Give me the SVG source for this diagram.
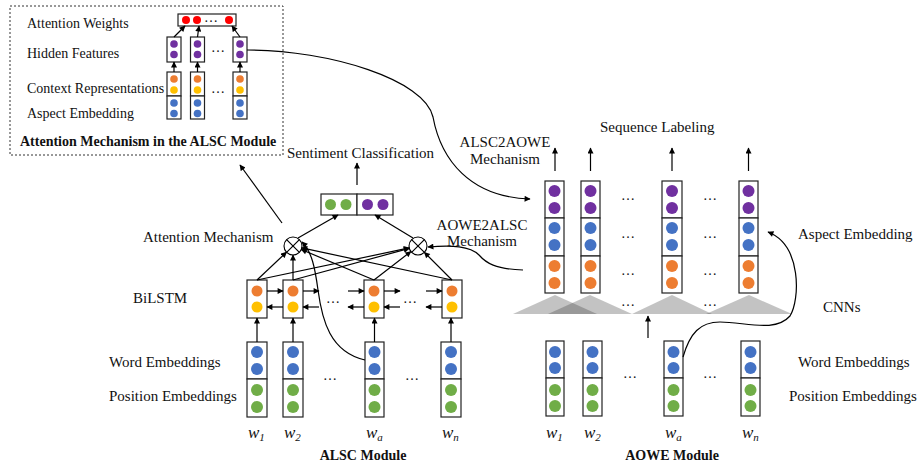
<svg xmlns="http://www.w3.org/2000/svg" width="920" height="468" viewBox="0 0 920 468">
<defs>
<marker id="ah" viewBox="0 0 10 10" refX="9" refY="5" markerWidth="7" markerHeight="6" markerUnits="userSpaceOnUse" orient="auto">
<path d="M0,0 L10,5 L0,10 z" fill="#000"/>
</marker>
</defs>
<style>
text{font-family:"Liberation Serif","Times New Roman",serif;fill:#111}
.t{font-size:15px}
.ti{font-size:14px}
.b{font-size:14px;font-weight:bold}
.w{font-size:17px;font-style:italic}
.s{font-size:11px}
.su{font-size:11px;font-style:italic}
.el{font-size:14px}
.box{fill:#fff;stroke:#222;stroke-width:1.2}
.ln{fill:none;stroke:#000;stroke-width:1.2}
.ar{fill:none;stroke:#000;stroke-width:1.2;marker-end:url(#ah)}
.o{fill:#ED7D31}.y{fill:#FFC000}.bl{fill:#4472C4}.g{fill:#70AD47}.p{fill:#7030A0}.r{fill:#FF0000}
.tri{fill:#373737;fill-opacity:0.3}
</style>

<g id="inset">
<rect x="10" y="6" width="273" height="149" fill="none" stroke="#333" stroke-width="1" stroke-dasharray="2,2"/>
<text class="ti" x="27" y="28">Attention Weights</text>
<text class="ti" x="27" y="58">Hidden Features</text>
<text class="ti" x="27" y="93">Context Representations</text>
<text class="ti" x="27" y="118">Aspect Embedding</text>
<text class="b" x="20" y="146">Attention Mechanism in the ALSC Module</text>
<rect class="box" x="178" y="14" width="58" height="12"/>
<circle class="r" cx="186" cy="20" r="4"/><circle class="r" cx="197" cy="20" r="4"/><circle class="r" cx="229" cy="20" r="4"/>
<text class="ti" x="211" y="22" text-anchor="middle">…</text>
<rect class="box" x="167" y="37" width="14" height="25"/>
<rect class="box" x="190.5" y="37" width="14" height="25"/>
<rect class="box" x="233" y="37" width="14" height="25"/>
<circle class="p" cx="174" cy="44" r="3.8"/><circle class="p" cx="174" cy="54.5" r="3.8"/>
<circle class="p" cx="197.5" cy="44" r="3.8"/><circle class="p" cx="197.5" cy="54.5" r="3.8"/>
<circle class="p" cx="240" cy="44" r="3.8"/><circle class="p" cx="240" cy="54.5" r="3.8"/>
<text class="ti" x="218" y="52" text-anchor="middle">…</text>
<rect class="box" x="167" y="72" width="14" height="24"/><rect class="box" x="167" y="96" width="14" height="23"/>
<rect class="box" x="190.5" y="72" width="14" height="24"/><rect class="box" x="190.5" y="96" width="14" height="23"/>
<rect class="box" x="233" y="72" width="14" height="24"/><rect class="box" x="233" y="96" width="14" height="23"/>
<circle class="o" cx="174" cy="79" r="3.8"/><circle class="y" cx="174" cy="90" r="3.8"/><circle class="bl" cx="174" cy="103" r="3.8"/><circle class="bl" cx="174" cy="113.5" r="3.8"/>
<circle class="o" cx="197.5" cy="79" r="3.8"/><circle class="y" cx="197.5" cy="90" r="3.8"/><circle class="bl" cx="197.5" cy="103" r="3.8"/><circle class="bl" cx="197.5" cy="113.5" r="3.8"/>
<circle class="o" cx="240" cy="79" r="3.8"/><circle class="y" cx="240" cy="90" r="3.8"/><circle class="bl" cx="240" cy="103" r="3.8"/><circle class="bl" cx="240" cy="113.5" r="3.8"/>
<text class="ti" x="218" y="93" text-anchor="middle">…</text>
</g>

<g id="alsc-labels">
<text class="t" x="287" y="158">Sentiment Classification</text>
<text class="t" x="143" y="242">Attention Mechanism</text>
<text class="t" x="133" y="303">BiLSTM</text>
<text class="t" x="109" y="367">Word Embeddings</text>
<text class="t" x="109" y="401">Position Embeddings</text>
<text class="t" x="482" y="230" text-anchor="middle">AOWE2ALSC</text>
<text class="t" x="482" y="246" text-anchor="middle">Mechanism</text>
<text class="t" x="505" y="147" text-anchor="middle">ALSC2AOWE</text>
<text class="t" x="505" y="164" text-anchor="middle">Mechanism</text>
<text class="b" x="363" y="460" text-anchor="middle">ALSC Module</text>
</g>

<g id="sentiment-box">
<rect class="box" x="321" y="194" width="36" height="21"/>
<rect class="box" x="357" y="194" width="36" height="21"/>
<circle class="g" cx="330.5" cy="204.5" r="5.5"/><circle class="g" cx="346" cy="204.5" r="5.5"/>
<circle class="p" cx="367.5" cy="204.5" r="5.5"/><circle class="p" cx="383" cy="204.5" r="5.5"/>
</g>

<g id="attn-ops">
<circle cx="293" cy="246" r="9" fill="#fff" stroke="#000" stroke-width="1.1"/>
<path class="ln" d="M286.6,239.6 L299.4,252.4 M299.4,239.6 L286.6,252.4" stroke-width="1"/>
<circle cx="418" cy="246" r="9" fill="#fff" stroke="#000" stroke-width="1.1"/>
<path class="ln" d="M411.6,239.6 L424.4,252.4 M424.4,239.6 L411.6,252.4" stroke-width="1"/>
</g>

<g id="bilstm">
<rect class="box" x="247" y="280" width="20" height="38"/>
<rect class="box" x="283" y="280" width="20" height="38"/>
<rect class="box" x="364" y="280" width="20" height="38"/>
<rect class="box" x="442" y="280" width="20" height="38"/>
<circle class="o" cx="257" cy="291" r="5.5"/><circle class="y" cx="257" cy="307" r="5.5"/>
<circle class="o" cx="293" cy="291" r="5.5"/><circle class="y" cx="293" cy="307" r="5.5"/>
<circle class="o" cx="374" cy="291" r="5.5"/><circle class="y" cx="374" cy="307" r="5.5"/>
<circle class="o" cx="452" cy="291" r="5.5"/><circle class="y" cx="452" cy="307" r="5.5"/>
<text class="el" x="333" y="303" text-anchor="middle">…</text>
<text class="el" x="410" y="303" text-anchor="middle">…</text>
</g>

<g id="alsc-emb">
<rect class="box" x="247" y="342" width="20" height="37"/><rect class="box" x="247" y="379" width="20" height="38"/>
<rect class="box" x="283" y="342" width="20" height="37"/><rect class="box" x="283" y="379" width="20" height="38"/>
<rect class="box" x="365" y="342" width="19" height="37"/><rect class="box" x="365" y="379" width="19" height="38"/>
<rect class="box" x="441" y="342" width="20" height="37"/><rect class="box" x="441" y="379" width="20" height="38"/>
<circle class="bl" cx="257" cy="352" r="6"/><circle class="bl" cx="257" cy="369" r="6"/><circle class="g" cx="257" cy="390" r="6"/><circle class="g" cx="257" cy="407" r="6"/>
<circle class="bl" cx="293" cy="352" r="6"/><circle class="bl" cx="293" cy="369" r="6"/><circle class="g" cx="293" cy="390" r="6"/><circle class="g" cx="293" cy="407" r="6"/>
<circle class="bl" cx="374.5" cy="352" r="6"/><circle class="bl" cx="374.5" cy="369" r="6"/><circle class="g" cx="374.5" cy="390" r="6"/><circle class="g" cx="374.5" cy="407" r="6"/>
<circle class="bl" cx="451" cy="352" r="6"/><circle class="bl" cx="451" cy="369" r="6"/><circle class="g" cx="451" cy="390" r="6"/><circle class="g" cx="451" cy="407" r="6"/>
<text class="el" x="330" y="380" text-anchor="middle">…</text>
<text class="el" x="412" y="380" text-anchor="middle">…</text>
<text class="w" x="248" y="438">w<tspan class="s" dy="3">1</tspan></text>
<text class="w" x="284" y="438">w<tspan class="s" dy="3">2</tspan></text>
<text class="w" x="366" y="438">w<tspan class="su" dy="3">a</tspan></text>
<text class="w" x="442" y="438">w<tspan class="su" dy="3">n</tspan></text>
</g>

<g id="aowe-labels">
<text class="t" x="600" y="132">Sequence Labeling</text>
<text class="t" x="798" y="239">Aspect Embedding</text>
<text class="t" x="823" y="312">CNNs</text>
<text class="t" x="798" y="367">Word Embeddings</text>
<text class="t" x="789" y="401">Position Embeddings</text>
<text class="b" x="672" y="460" text-anchor="middle">AOWE Module</text>
</g>

<g id="aowe-cnn">
<polygon class="tri" points="513,314 555,295 597,314"/>
<polygon class="tri" points="548,314 590,295 632,314"/>
<polygon class="tri" points="632,314 672,295 712,314"/>
<polygon class="tri" points="706,314 749,295 792,314"/>
<text class="el" x="628" y="306" text-anchor="middle">…</text>
<text class="el" x="710" y="306" text-anchor="middle">…</text>
</g>

<g id="aowe-stack">
<rect class="box" x="545" y="181" width="19" height="37"/><rect class="box" x="545" y="218" width="19" height="38"/><rect class="box" x="545" y="256" width="19" height="37"/>
<rect class="box" x="581" y="181" width="19" height="37"/><rect class="box" x="581" y="218" width="19" height="38"/><rect class="box" x="581" y="256" width="19" height="37"/>
<rect class="box" x="662" y="181" width="20" height="37"/><rect class="box" x="662" y="218" width="20" height="38"/><rect class="box" x="662" y="256" width="20" height="37"/>
<rect class="box" x="739" y="181" width="19" height="37"/><rect class="box" x="739" y="218" width="19" height="38"/><rect class="box" x="739" y="256" width="19" height="37"/>
<circle class="p" cx="554.5" cy="191" r="6"/><circle class="p" cx="554.5" cy="208" r="6"/><circle class="bl" cx="554.5" cy="228" r="6"/><circle class="bl" cx="554.5" cy="245" r="6"/><circle class="o" cx="554.5" cy="266" r="6"/><circle class="o" cx="554.5" cy="283" r="6"/>
<circle class="p" cx="590.5" cy="191" r="6"/><circle class="p" cx="590.5" cy="208" r="6"/><circle class="bl" cx="590.5" cy="228" r="6"/><circle class="bl" cx="590.5" cy="245" r="6"/><circle class="o" cx="590.5" cy="266" r="6"/><circle class="o" cx="590.5" cy="283" r="6"/>
<circle class="p" cx="672" cy="191" r="6"/><circle class="p" cx="672" cy="208" r="6"/><circle class="bl" cx="672" cy="228" r="6"/><circle class="bl" cx="672" cy="245" r="6"/><circle class="o" cx="672" cy="266" r="6"/><circle class="o" cx="672" cy="283" r="6"/>
<circle class="p" cx="748.5" cy="191" r="6"/><circle class="p" cx="748.5" cy="208" r="6"/><circle class="bl" cx="748.5" cy="228" r="6"/><circle class="bl" cx="748.5" cy="245" r="6"/><circle class="o" cx="748.5" cy="266" r="6"/><circle class="o" cx="748.5" cy="283" r="6"/>
<text class="el" x="628" y="200" text-anchor="middle">…</text><text class="el" x="710" y="200" text-anchor="middle">…</text>
<text class="el" x="628" y="238" text-anchor="middle">…</text><text class="el" x="710" y="238" text-anchor="middle">…</text>
<text class="el" x="628" y="275" text-anchor="middle">…</text><text class="el" x="710" y="275" text-anchor="middle">…</text>
</g>

<g id="aowe-emb">
<rect class="box" x="546" y="341" width="18" height="37"/><rect class="box" x="546" y="378" width="18" height="38"/>
<rect class="box" x="583" y="341" width="19" height="37"/><rect class="box" x="583" y="378" width="19" height="38"/>
<rect class="box" x="664" y="341" width="19" height="37"/><rect class="box" x="664" y="378" width="19" height="38"/>
<rect class="box" x="741" y="341" width="19" height="37"/><rect class="box" x="741" y="378" width="19" height="38"/>
<circle class="bl" cx="555" cy="352" r="6"/><circle class="bl" cx="555" cy="368" r="6"/><circle class="g" cx="555" cy="390" r="6"/><circle class="g" cx="555" cy="406" r="6"/>
<circle class="bl" cx="592.5" cy="352" r="6"/><circle class="bl" cx="592.5" cy="368" r="6"/><circle class="g" cx="592.5" cy="390" r="6"/><circle class="g" cx="592.5" cy="406" r="6"/>
<circle class="bl" cx="673.5" cy="352" r="6"/><circle class="bl" cx="673.5" cy="368" r="6"/><circle class="g" cx="673.5" cy="390" r="6"/><circle class="g" cx="673.5" cy="406" r="6"/>
<circle class="bl" cx="750.5" cy="352" r="6"/><circle class="bl" cx="750.5" cy="368" r="6"/><circle class="g" cx="750.5" cy="390" r="6"/><circle class="g" cx="750.5" cy="406" r="6"/>
<text class="el" x="630" y="378" text-anchor="middle">…</text>
<text class="el" x="710" y="378" text-anchor="middle">…</text>
<text class="w" x="546" y="438">w<tspan class="s" dy="3">1</tspan></text>
<text class="w" x="584" y="438">w<tspan class="s" dy="3">2</tspan></text>
<text class="w" x="665" y="438">w<tspan class="su" dy="3">a</tspan></text>
<text class="w" x="742" y="438">w<tspan class="su" dy="3">n</tspan></text>
</g>

<g id="connectors">
<!-- inset -->
<path class="ar" d="M174,72 L174,62"/><path class="ar" d="M197.5,72 L197.5,62"/><path class="ar" d="M240,72 L240,62"/>
<path class="ar" d="M174,37 L185,26"/><path class="ar" d="M197.5,37 L199,26"/><path class="ar" d="M240,37 L232,26"/>
<!-- ALSC -->
<path class="ar" d="M357,185 L357,163"/>
<path class="ar" d="M298,238 L338,215"/>
<path class="ar" d="M413,238 L375,215"/>
<path class="ar" d="M282,223 L240,165"/>
<path class="ar" d="M257,280 L286.5,252.2"/>
<path class="ar" d="M293,280 L293,255"/>
<path class="ar" d="M374,280 L301.3,249.5"/>
<path class="ar" d="M452,280 L301.8,247.9"/>
<path class="ar" d="M257,280 L409.2,247.9"/>
<path class="ar" d="M293,280 L409.3,248.4"/>
<path class="ar" d="M374,280 L410.9,251.5"/>
<path class="ar" d="M452,280 L424.4,252.4"/>
<path class="ar" d="M267,291 L283,291"/><path class="ar" d="M303,291 L319,291"/><path class="ar" d="M348,291 L364,291"/><path class="ar" d="M384,291 L400,291"/><path class="ar" d="M426,291 L442,291"/>
<path class="ar" d="M283,307 L267,307"/><path class="ar" d="M319,307 L303,307"/><path class="ar" d="M364,307 L348,307"/><path class="ar" d="M400,307 L384,307"/><path class="ar" d="M442,307 L426,307"/>
<path class="ar" d="M257,342 L257,318"/><path class="ar" d="M293,342 L293,318"/><path class="ar" d="M374.5,342 L374.5,318"/><path class="ar" d="M451,342 L451,318"/>
<path class="ar" d="M365,360 C330,352 322,320 318,290 C315,268 312,252 302,242"/>
<!-- cross-module -->
<path class="ar" d="M523,270 C495,269 486,263 479,255 C470,246 452,245 428,247"/>
<path class="ar" d="M247,50 C330,50 425,80 433,117 C441,160 470,197 530,199"/>
<!-- AOWE -->
<path class="ar" d="M555,171 L555,148"/><path class="ar" d="M590.5,171 L590.5,148"/><path class="ar" d="M672,171 L672,148"/><path class="ar" d="M748.5,171 L748.5,148"/>
<path class="ar" d="M648,338 L648,316"/>
<path class="ar" d="M683,357 C690,333 700,322 720,322 C745,322 775,333 790,316 C800,300 802,245 768,232"/>
</g>
</svg>
